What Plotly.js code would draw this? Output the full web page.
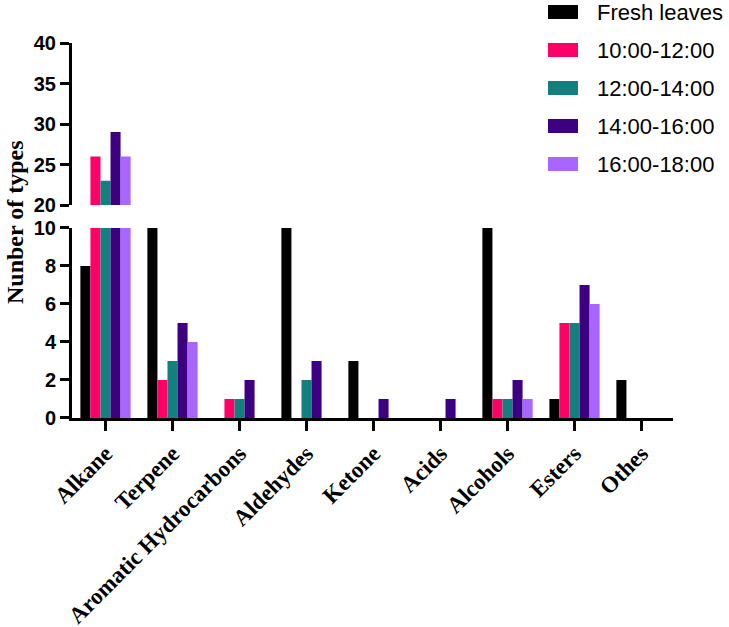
<!DOCTYPE html>
<html>
<head>
<meta charset="utf-8">
<script src="https://cdn.plot.ly/plotly-3.0.1.min.js"></script>
<style>html,body{margin:0;padding:0;background:#fff;}#chart{width:729px;height:627px;}</style>
</head>
<body>
<div id="chart"></div>
<script>
var categories = ["Alkane", "Terpene", "Aromatic Hydrocarbons", "Aldehydes", "Ketone", "Acids", "Alcohols", "Esters", "Othes"];
var seriesNames = ["Fresh leaves", "10:00-12:00", "12:00-14:00", "14:00-16:00", "16:00-18:00"];
var freshLeaves = [8, 10, 0, 10, 3, 0, 10, 1, 2];
var t10to12 = [26, 2, 1, 0, 0, 0, 1, 5, 0];
var t12to14 = [23, 3, 1, 2, 0, 0, 1, 5, 0];
var t14to16 = [29, 5, 2, 3, 1, 1, 2, 7, 0];
var t16to18 = [26, 4, 0, 0, 0, 0, 1, 6, 0];
var seriesValues = [freshLeaves, t10to12, t12to14, t14to16, t16to18];
var colors = ["#000000", "#FF0066", "#14807E", "#3D0080", "#A866FF"];
var lowerTicks = [0, 2, 4, 6, 8, 10];
var upperTicks = [20, 25, 30, 35, 40];

var traces = [];
seriesValues.forEach(function (vals, i) {
  traces.push({
    type: "bar", x: categories, y: vals, name: seriesNames[i],
    marker: {color: colors[i], line: {width: 0}},
    xaxis: "x", yaxis: "y", showlegend: false, hoverinfo: "x+y"
  });
});
seriesValues.forEach(function (vals, i) {
  traces.push({
    type: "bar", x: categories, y: vals, name: seriesNames[i],
    marker: {color: colors[i], line: {width: 0}},
    xaxis: "x2", yaxis: "y2", showlegend: false, hoverinfo: "x+y"
  });
});

var tickFont = {family: "Arial, 'Liberation Sans', sans-serif", size: 20, color: "#000", weight: "bold"};
var catFont = {family: "'Times New Roman', 'Liberation Serif', serif", size: 23, color: "#000", weight: "bold"};

// legend drawn as key boxes + labels (paper coordinates)
var plotL = 72, plotW = 601, plotB = 418, plotH = 375;
function px2x(p) { return (p - plotL) / plotW; }
function px2y(p) { return (plotB - p) / plotH; }
var shapes = [], annotations = [];
seriesNames.forEach(function (nm, i) {
  var cy = 12 + 38 * i;
  shapes.push({
    type: "rect", xref: "paper", yref: "paper",
    x0: px2x(548), x1: px2x(578), y0: px2y(cy - 7), y1: px2y(cy + 7),
    fillcolor: colors[i], line: {width: 0}
  });
  annotations.push({
    text: nm, xref: "paper", yref: "paper", x: px2x(595), y: px2y(cy),
    xanchor: "left", yanchor: "middle", showarrow: false,
    font: {family: "Arial, 'Liberation Sans', sans-serif", size: 22, color: "#000"}
  });
});
annotations.push({
  text: "Nunber of types", xref: "paper", yref: "paper",
  x: px2x(15), y: px2y(222), xanchor: "center", yanchor: "middle", textangle: -90, showarrow: false,
  font: {family: "'Times New Roman', 'Liberation Serif', serif", size: 24, color: "#000", weight: "bold"}
});

var layout = {
  width: 729, height: 627,
  margin: {l: 72, r: 56, t: 43, b: 209, autoexpand: false},
  paper_bgcolor: "#fff", plot_bgcolor: "rgba(0,0,0,0)",
  barmode: "group", bargap: 0.25, bargroupgap: 0,
  showlegend: false,
  xaxis: {
    domain: [0, 1], range: [-0.5, 8.47], anchor: "y",
    type: "category", showline: true, linecolor: "#000", linewidth: 3,
    ticks: "outside", ticklen: 10, tickwidth: 3, tickcolor: "#000",
    tickangle: -45, tickfont: catFont, showgrid: false, zeroline: false, fixedrange: true,
    automargin: false
  },
  xaxis2: {
    domain: [0, 1], range: [-0.5, 8.47], anchor: "y2", matches: "x",
    type: "category", showline: false, showticklabels: false, ticks: "",
    showgrid: false, zeroline: false, fixedrange: true
  },
  yaxis: {
    domain: [0, 0.5067], range: [0, 10], anchor: "x",
    tickvals: lowerTicks, ticktext: lowerTicks.map(String),
    showline: true, linecolor: "#000", linewidth: 3,
    ticks: "outside", ticklen: 9, tickwidth: 3, tickcolor: "#000",
    tickfont: tickFont, showgrid: false, zeroline: false, fixedrange: true, automargin: false
  },
  yaxis2: {
    domain: [0.568, 1], range: [20, 40], anchor: "x2",
    tickvals: upperTicks, ticktext: upperTicks.map(String),
    showline: true, linecolor: "#000", linewidth: 3,
    ticks: "outside", ticklen: 9, tickwidth: 3, tickcolor: "#000",
    tickfont: tickFont, showgrid: false, zeroline: false, fixedrange: true, automargin: false
  },
  shapes: shapes,
  annotations: annotations
};

Plotly.newPlot("chart", traces, layout, {displayModeBar: false, staticPlot: true});
</script>
</body>
</html>
